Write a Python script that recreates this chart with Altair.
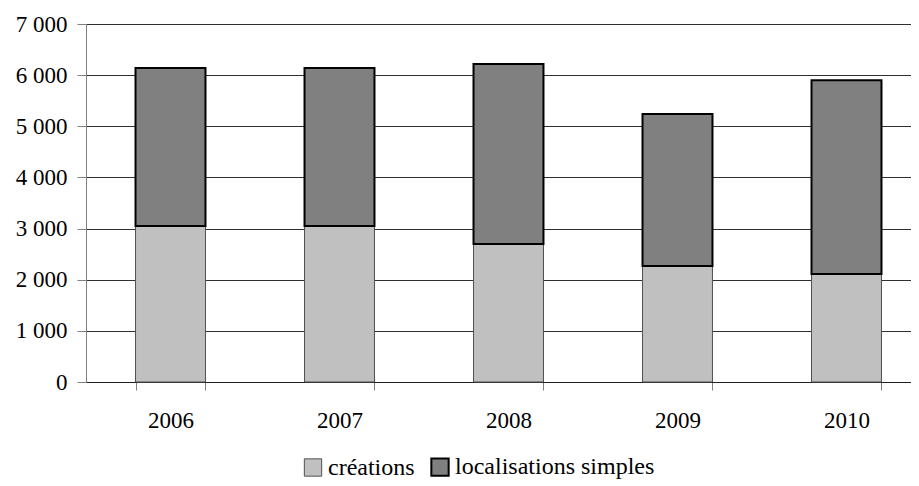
import altair as alt
import pandas as pd

years = ["2006", "2007", "2008", "2009", "2010"]
creations = [3050, 3050, 2700, 2270, 2110]
localisations = [3090, 3090, 3520, 2970, 3790]
series = ["créations", "localisations simples"]
colors = ["#C0C0C0", "#808080"]
strokes = ["#505050", "#000000"]
y_ticks = [0, 1000, 2000, 3000, 4000, 5000, 6000, 7000]

rows = []
for i, y in enumerate(years):
    rows.append({"annee": y, "serie": series[0], "valeur": creations[i], "ord": 0})
    rows.append({"annee": y, "serie": series[1], "valeur": localisations[i], "ord": 1})
df = pd.DataFrame(rows)

FONT = "Liberation Serif"

chart = alt.Chart(df).mark_bar(opacity=1).encode(
    x=alt.X("annee:N", title=None, sort=years,
            scale=alt.Scale(paddingInner=0.586, paddingOuter=0.293, range=[0, 845]),
            axis=alt.Axis(labelAngle=0, tickBand="extent", tickSize=8, tickColor="#808080",
                          domainColor="#202020", labelFont=FONT, labelFontSize=23,
                          labelColor="black", labelPadding=19, grid=False)),
    y=alt.Y("valeur:Q", title=None, stack="zero",
            scale=alt.Scale(domain=[0, 7000], nice=False),
            axis=alt.Axis(values=y_ticks, labelExpr="replace(format(datum.value, ',d'), ',', ' ')",
                          tickSize=9, tickColor="#808080", domainColor="#808080",
                          labelFont=FONT, labelFontSize=23, labelColor="black",
                          labelPadding=10, gridColor="#303030", gridWidth=1)),
    color=alt.Color("serie:N", sort=series, scale=alt.Scale(domain=series, range=colors),
                    legend=alt.Legend(title=None, orient="none", direction="horizontal",
                                      legendX=215, legendY=431, symbolType="square",
                                      symbolSize=300, symbolStrokeColor="black",
                                      symbolStrokeWidth=1.2, symbolOpacity=1,
                                      labelFont=FONT, labelFontSize=24, labelColor="black",
                                      labelOffset=3, columnPadding=12, labelLimit=0)),
    stroke=alt.Stroke("serie:N", scale=alt.Scale(domain=series, range=strokes), legend=None),
    strokeWidth=alt.StrokeWidth("serie:N", scale=alt.Scale(domain=series, range=[1, 2]), legend=None),
    order=alt.Order("ord:Q", sort="ascending"),
).properties(
    width=825, height=358,
    autosize=alt.AutoSizeParams(type="none"),
    padding={"left": 78, "top": 16, "right": 0, "bottom": 104},
).configure_view(stroke=None).configure(background="white")

chart.save("out.html", embed_options={"renderer": "svg", "actions": False})
